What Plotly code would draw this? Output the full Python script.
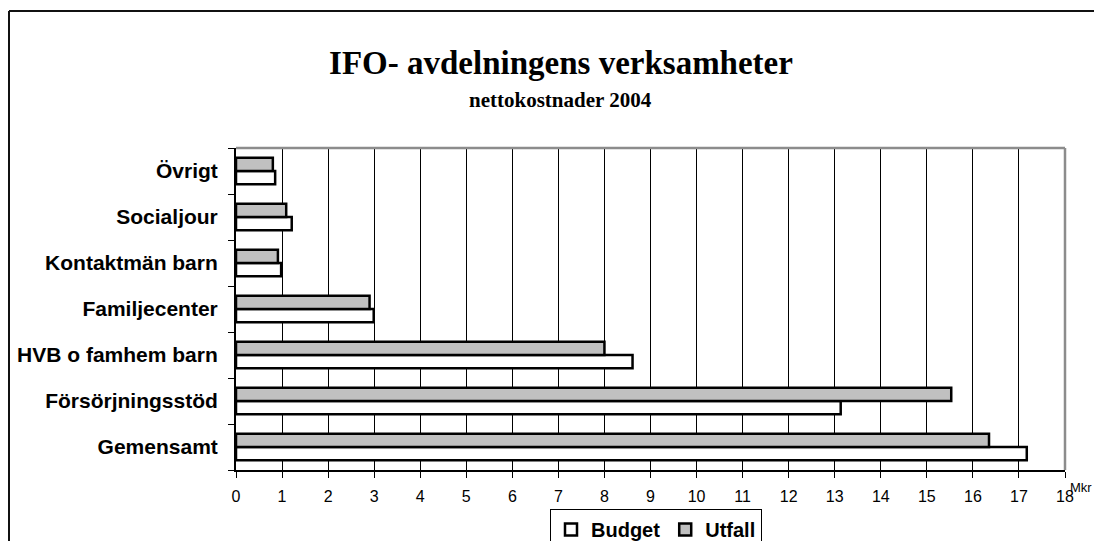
import plotly.graph_objects as go

categories = ["Gemensamt", "Försörjningsstöd", "HVB o famhem barn", "Familjecenter",
              "Kontaktmän barn", "Socialjour", "Övrigt"]
budget = [17.17, 13.13, 8.61, 2.99, 0.98, 1.21, 0.85]
utfall = [16.35, 15.53, 8.00, 2.90, 0.91, 1.09, 0.80]
x_ticks = list(range(0, 19))

fig = go.Figure()
fig.add_trace(go.Bar(y=categories, x=budget, orientation="h", name="Budget",
                     marker=dict(color="white", line=dict(color="black", width=2.5))))
fig.add_trace(go.Bar(y=categories, x=utfall, orientation="h", name="Utfall",
                     marker=dict(color="#c0c0c0", line=dict(color="black", width=2.5))))

W, H = 1086, 533
L, R, T = 228, 29, 140
B = H - 462
pw, ph = W - L - R, H - T - B

def px(xp):
    return (xp - L) / pw

def py(yp):
    return (H - B - yp) / ph

fig.update_layout(
    width=W, height=H,
    margin=dict(l=L, r=R, t=T, b=B, autoexpand=False),
    paper_bgcolor="white", plot_bgcolor="white",
    barmode="group", bargap=0.42, bargroupgap=0,
    title=dict(text="IFO- avdelningens verksamheter", x=553 / W, xanchor="center",
               y=1 - 54 / H, yanchor="middle", yref="container",
               font=dict(family="Liberation Serif", size=33, color="black", weight="bold")),
    showlegend=True,
    legend=dict(orientation="h", x=px(648), xanchor="center", y=py(501), yanchor="top",
                bordercolor="black", borderwidth=1, bgcolor="white",
                font=dict(family="Liberation Sans", size=20, color="black", weight="bold"),
                itemwidth=30, traceorder="normal"),
    xaxis=dict(range=[0, 18], tickmode="array", tickvals=x_ticks, ticktext=[str(v) for v in x_ticks],
               showgrid=True, gridcolor="black", gridwidth=1,
               showline=True, linecolor="black", linewidth=2,
               ticks="outside", ticklen=6, tickcolor="black", tickwidth=1,
               ticklabelstandoff=5,
               tickfont=dict(family="Liberation Sans", size=16, color="black"),
               zeroline=False, fixedrange=True),
    yaxis=dict(showgrid=False, showline=True, linecolor="black", linewidth=2,
               ticks="outside", ticklen=6, tickcolor="black", tickson="boundaries",
               ticklabelstandoff=12,
               tickfont=dict(family="Liberation Sans", size=21, color="black", weight="bold"),
               zeroline=False, fixedrange=True),
    annotations=[
        dict(text="nettokostnader 2004", x=px(552), xref="paper", xanchor="center",
             y=py(92), yref="paper", yanchor="middle", showarrow=False,
             font=dict(family="Liberation Serif", size=21, color="black", weight="bold")),
        dict(text="Mkr", x=px(1060), xref="paper", xanchor="left",
             y=py(479), yref="paper", yanchor="middle", showarrow=False,
             font=dict(family="Liberation Sans", size=13, color="black")),
    ],
    shapes=[
        dict(type="line", xref="paper", yref="paper", x0=0, x1=1, y0=1, y1=1,
             line=dict(color="#8c8c8c", width=2.5)),
        dict(type="line", xref="paper", yref="paper", x0=1, x1=1, y0=0, y1=1,
             line=dict(color="#8c8c8c", width=2.5)),
        dict(type="line", xref="paper", yref="paper", x0=px(1), x1=px(W + 20), y0=py(3), y1=py(3),
             line=dict(color="#111", width=2), layer="below"),
        dict(type="line", xref="paper", yref="paper", x0=px(1), x1=px(1), y0=py(3), y1=py(H + 20),
             line=dict(color="#111", width=2), layer="below"),
    ],
)

fig.write_html("out.html")
